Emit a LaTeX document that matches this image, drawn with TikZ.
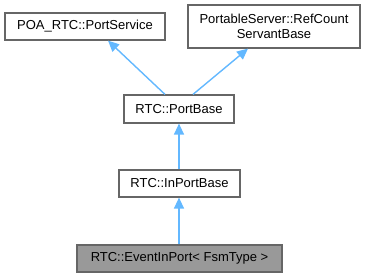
\documentclass[tikz,border=0pt]{standalone}
\usepackage{fontspec}
\setmainfont{Liberation Sans}
\usetikzlibrary{arrows.meta}
\definecolor{edgeblue}{RGB}{99,184,255}
\definecolor{boxgray}{RGB}{102,102,102}
\definecolor{curfill}{RGB}{153,153,153}
\begin{document}
\begin{tikzpicture}[x=1pt,y=-1pt,
  cls/.style={draw=boxgray,fill=white,line width=1.2pt,inner sep=0pt,font=\fontsize{13}{14.5}\selectfont,align=center},
  cur/.style={cls,fill=curfill},
  inh/.style={draw=edgeblue,fill=edgeblue,line width=1.4pt,-{Triangle[length=11pt,width=10pt]}}]
\useasboundingbox (0,0) rectangle (365,277);
\node[cls,minimum width=160pt,minimum height=27pt] (ps) at (85,26.5) {POA\_RTC::PortService};
\node[cls,minimum width=172pt,minimum height=43pt] (rc) at (274,26.5) {PortableServer::RefCount\\ServantBase};
\node[cls,minimum width=110pt,minimum height=28pt] (pb) at (179,109) {RTC::PortBase};
\node[cls,minimum width=121pt,minimum height=27pt] (ipb) at (179.5,183.5) {RTC::InPortBase};
\node[cur,minimum width=205pt,minimum height=27pt] (eip) at (179.5,258.5) {RTC::EventInPort< FsmType >};
\draw[inh] (pb.north -| 165,0) -- (ps.south -| 108,0);
\draw[inh] (pb.north -| 193,0) -- (rc.south -| 248,0);
\draw[inh] (ipb.north -| 179,0) -- (pb.south -| 179,0);
\draw[inh] (eip.north -| 179,0) -- (ipb.south -| 179,0);
\end{tikzpicture}
\end{document}
